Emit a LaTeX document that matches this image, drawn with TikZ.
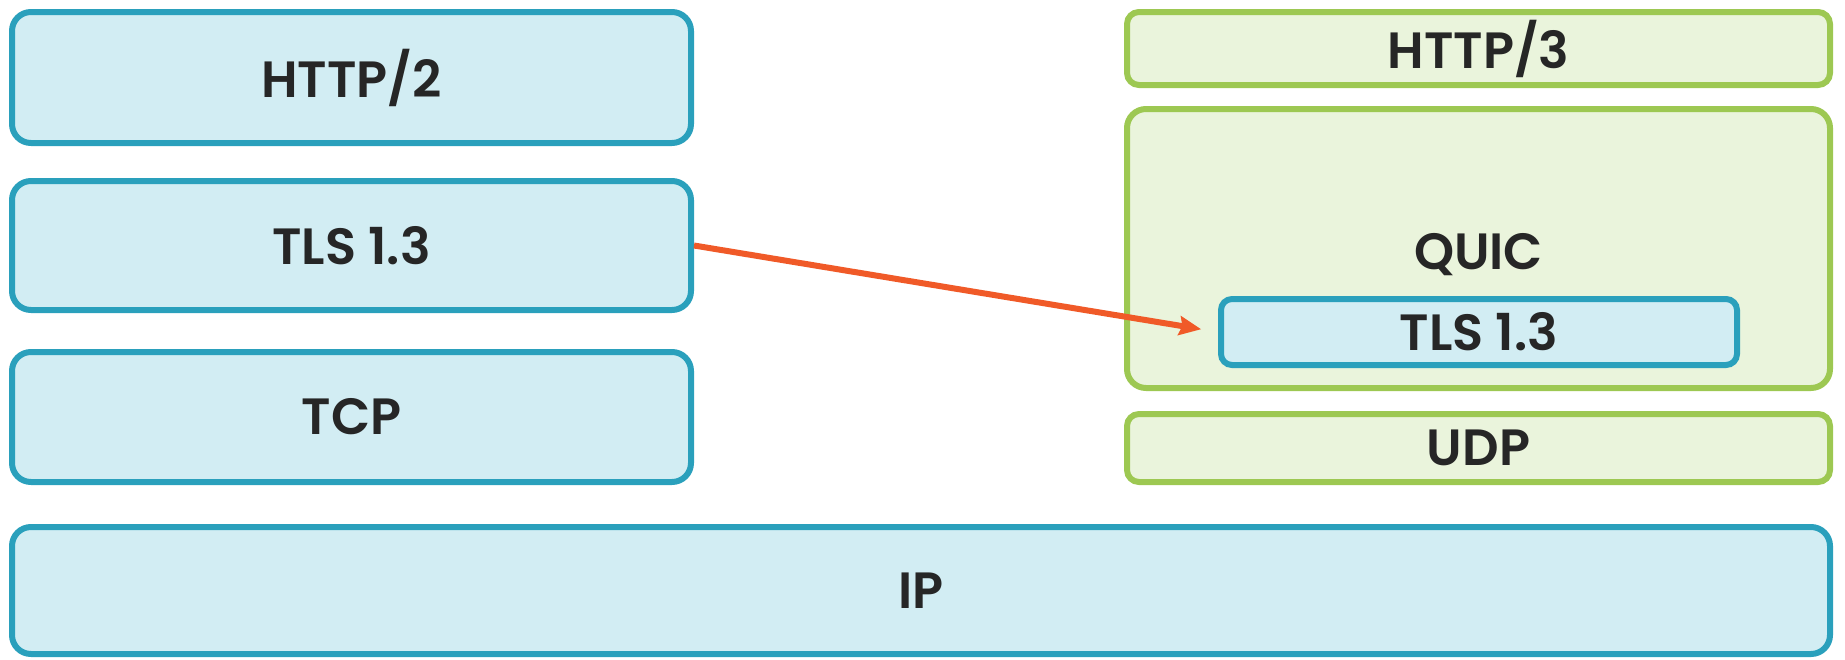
\documentclass[tikz,border=0pt]{standalone}
\usepackage{fontspec}
\setmainfont{Poppins}[BoldFont={Poppins SemiBold}]
\usetikzlibrary{arrows.meta}
\definecolor{bbord}{RGB}{42,160,188}
\definecolor{bfill}{RGB}{210,237,243}
\definecolor{gbord}{RGB}{157,200,82}
\definecolor{gfill}{RGB}{234,244,220}
\definecolor{arr}{RGB}{240,90,40}
\definecolor{txt}{RGB}{38,38,38}
\tikzset{
  layer/.style={draw, line width=6pt, rounded corners=19pt, inner sep=0pt,
    font=\fontsize{51}{51}\selectfont\bfseries, text=txt},
  bluebox/.style={layer, draw=bbord, fill=bfill},
  greenbox/.style={layer, draw=gbord, fill=gfill},
  conn/.style={draw=arr, line width=6pt, -{Stealth[length=22pt,width=19pt,inset=3pt]}}
}
\begin{document}
\begin{tikzpicture}[x=1pt,y=-1pt]
\useasboundingbox (0,0) rectangle (1845,659);
\node[bluebox, minimum width=679pt, minimum height=131pt] (http2) at (351.5,77.5) {HTTP/2};
\node[bluebox, minimum width=679pt, minimum height=129pt] (tls) at (351.5,245.5) {TLS 1.3};
\node[bluebox, minimum width=679pt, minimum height=130pt] (tcp) at (351.5,417) {TCP};
\node[bluebox, minimum width=1818pt, minimum height=127pt] (ip) at (921,590.5) {IP};
\node[greenbox, minimum width=703pt, minimum height=73pt, rounded corners=12pt] (http3) at (1478.5,48.5) {HTTP/3};
\node[greenbox, minimum width=703pt, minimum height=279pt] (quic) at (1478.5,248.5) {\raisebox{-6pt}[\height][\depth]{QUIC}};
\node[greenbox, minimum width=703pt, minimum height=68pt, rounded corners=12pt] (udp) at (1478.5,448) {UDP};
\node[bluebox, minimum width=516pt, minimum height=66pt, rounded corners=11pt] (tlsq) at (1479,332) {TLS 1.3};
\draw[conn, shorten >=17pt] (tls.east) -- (tlsq.west);
\end{tikzpicture}
\end{document}
